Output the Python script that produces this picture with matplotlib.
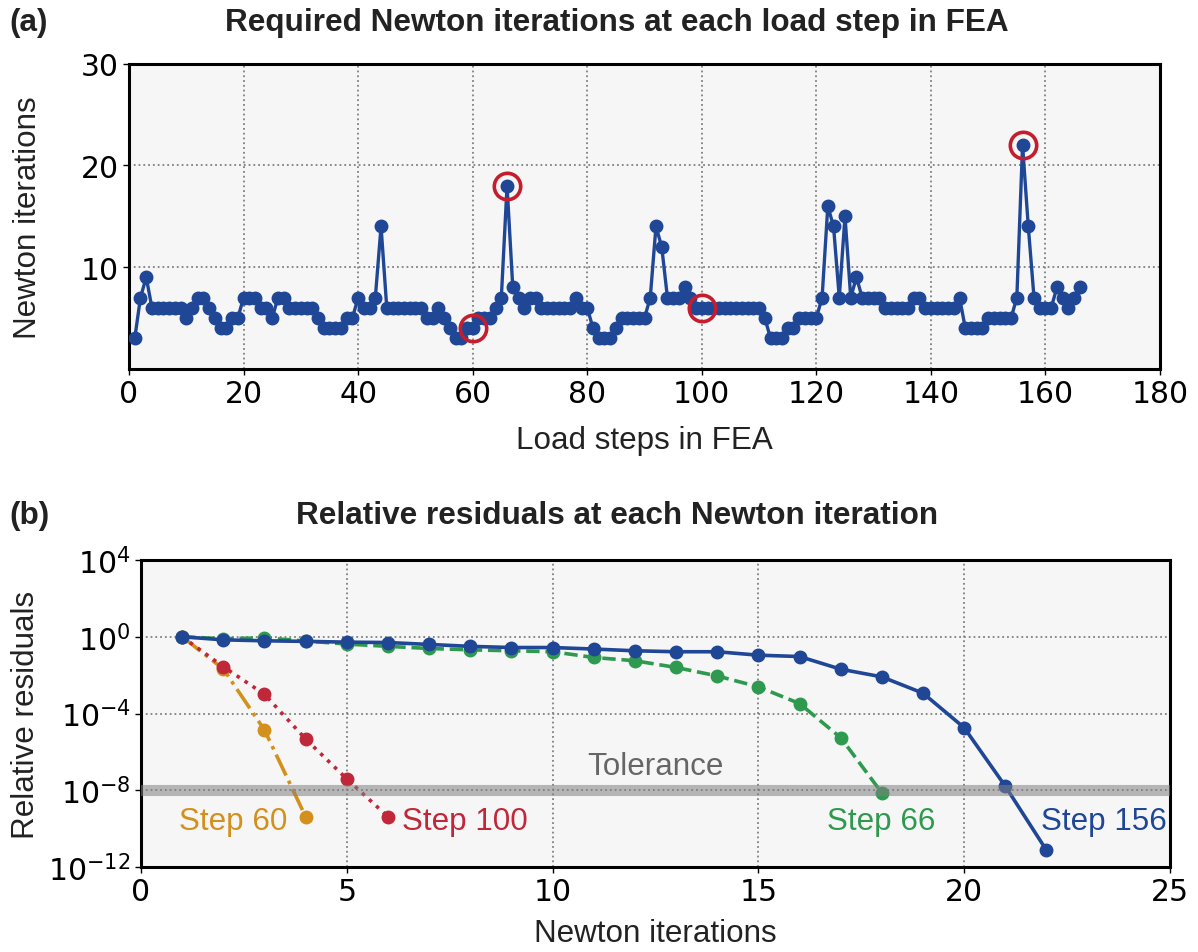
import numpy as np
import matplotlib
matplotlib.use("Agg")
import matplotlib.pyplot as plt

# Newton iterations needed at every load step (steps 1..166)
iters = [3, 7, 9, 6, 6, 6, 6, 6, 6, 5, 6, 7, 7, 6, 5, 4, 4, 5, 5, 7,
         7, 7, 6, 6, 5, 7, 7, 6, 6, 6, 6, 6, 5, 4, 4, 4, 4, 5, 5, 7,
         6, 6, 7, 14, 6, 6, 6, 6, 6, 6, 6, 5, 5, 6, 5, 4, 3, 3, 4, 4,
         5, 5, 5, 6, 7, 18, 8, 7, 6, 7, 7, 6, 6, 6, 6, 6, 6, 7, 6, 6,
         4, 3, 3, 3, 4, 5, 5, 5, 5, 5, 7, 14, 12, 7, 7, 7, 8, 7, 6, 6,
         6, 6, 6, 6, 6, 6, 6, 6, 6, 6, 5, 3, 3, 3, 4, 4, 5, 5, 5, 5,
         7, 16, 14, 7, 15, 7, 9, 7, 7, 7, 7, 6, 6, 6, 6, 6, 7, 7, 6, 6,
         6, 6, 6, 6, 7, 4, 4, 4, 4, 5, 5, 5, 5, 5, 7, 22, 14, 7, 6, 6,
         6, 8, 7, 6, 7, 8]
load_steps = np.arange(1, len(iters) + 1)
circled = [60, 66, 100, 156]

# relative residuals (log10) per Newton iteration
res60 = [0, -1.68, -4.86, -9.38]
res100 = [0, -1.56, -3.0, -5.33, -7.41, -9.38]
res66 = [0, -0.10, -0.06, -0.22, -0.38, -0.50, -0.61, -0.68, -0.73, -0.78,
         -1.08, -1.25, -1.60, -2.04, -2.61, -3.48, -5.26, -8.14]
res156 = [0, -0.16, -0.21, -0.24, -0.28, -0.30, -0.40, -0.50, -0.56, -0.56,
          -0.64, -0.73, -0.78, -0.78, -0.96, -1.03, -1.69, -2.09, -2.94, -4.74,
          -7.79, -11.13]
tol = 1e-8

blue = '#1f4796'
red = '#c0283a'
orange = '#d4901c'
green = '#2f9a4f'
circ = '#c41e2e'
bg = '#f6f6f6'
txt = 'Liberation Sans'
lab = 22.6

fig = plt.figure(figsize=(11.98, 9.53), dpi=100)
ax1 = fig.add_axes([0.1077, 0.612, 0.8606, 0.320])
ax2 = fig.add_axes([0.1177, 0.0892, 0.8589, 0.3221])

def style(ax):
    ax.set_facecolor(bg)
    for s in ax.spines.values():
        s.set_linewidth(2.2)
    ax.grid(True, linestyle=':', color='gray', linewidth=1.3)
    ax.set_axisbelow(True)
    ax.tick_params(direction='out', length=4, width=1, labelsize=21.5)

# (a)
style(ax1)
ax1.plot(load_steps, iters, '-o', color=blue, lw=2.4, ms=9, zorder=3)
for s in circled:
    ax1.plot(s, iters[s - 1], 'o', ms=19, mfc='none', mec=circ, mew=2.6, zorder=4)
ax1.set_xlim(0, 180)
ax1.set_ylim(0, 30)
ax1.set_yticks([10, 20, 30])
ax1.set_xticks(range(0, 181, 20))
ax1.set_xlabel('Load steps in FEA', family=txt, fontsize=lab, color='#222222', labelpad=12)
ax1.set_ylabel('Newton iterations', family=txt, fontsize=lab, color='#222222', labelpad=27)

# (b)
style(ax2)
ax2.set_yscale('log')
ax2.plot(np.arange(1, len(res60) + 1), 10.0 ** np.array(res60), '-.o', color=orange, lw=2.6, ms=9, zorder=3)
ax2.plot(np.arange(1, len(res100) + 1), 10.0 ** np.array(res100), ':o', color=red, lw=2.6, ms=9, zorder=3)
ax2.plot(np.arange(1, len(res66) + 1), 10.0 ** np.array(res66), '--o', color=green, lw=2.6, ms=9, zorder=3)
ax2.plot(np.arange(1, len(res156) + 1), 10.0 ** np.array(res156), '-o', color=blue, lw=2.6, ms=9, zorder=3)
ax2.axhline(tol, color='gray', lw=8, alpha=0.55, zorder=4)
ax2.set_xlim(0, 25)
ax2.set_ylim(1e-12, 1e4)
ax2.set_yticks([1e-12, 1e-8, 1e-4, 1e0, 1e4])
ax2.yaxis.set_minor_locator(matplotlib.ticker.NullLocator())
ax2.set_xlabel('Newton iterations', family=txt, fontsize=lab, color='#222222', labelpad=8)
ax2.set_ylabel('Relative residuals', family=txt, fontsize=lab, color='#222222', labelpad=5)

ax2.text(12.5, 10 ** -6.75, 'Tolerance', family=txt, fontsize=lab, color='#666666', ha='center', va='center')
ax2.text(2.25, 10 ** -9.6, 'Step 60', family=txt, fontsize=lab, color=orange, ha='center', va='center')
ax2.text(6.35, 10 ** -9.6, 'Step 100', family=txt, fontsize=lab, color=red, ha='left', va='center')
ax2.text(17.98, 10 ** -9.6, 'Step 66', family=txt, fontsize=lab, color=green, ha='center', va='center')
ax2.text(23.4, 10 ** -9.6, 'Step 156', family=txt, fontsize=lab, color=blue, ha='center', va='center')

fig.text(0.515, 0.976, 'Required Newton iterations at each load step in FEA', family=txt,
         fontsize=22.7, fontweight='bold', color='#222222', ha='center', va='center')
fig.text(0.008, 0.976, '(a)', family=txt, fontsize=22.7, fontweight='bold', color='#222222', ha='left', va='center')
fig.text(0.515, 0.459, 'Relative residuals at each Newton iteration', family=txt,
         fontsize=22.7, fontweight='bold', color='#222222', ha='center', va='center')
fig.text(0.008, 0.459, '(b)', family=txt, fontsize=22.7, fontweight='bold', color='#222222', ha='left', va='center')

fig.savefig('out.png', dpi=100)
